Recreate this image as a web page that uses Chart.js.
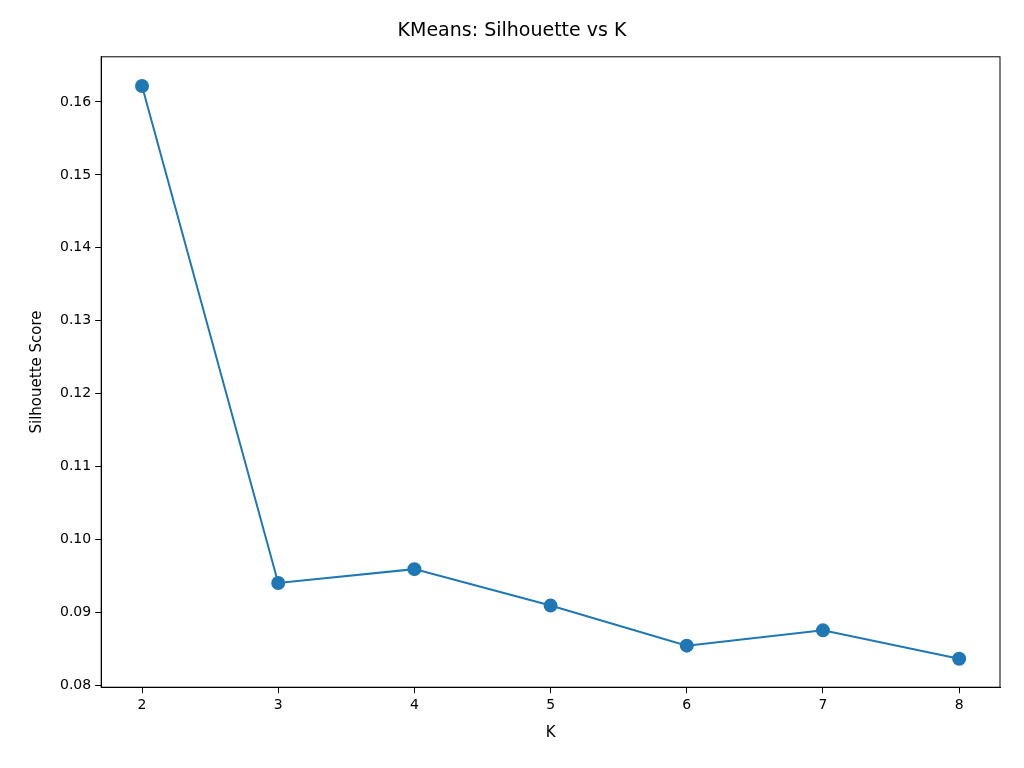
<!DOCTYPE html>
<html>
<head>
<meta charset="utf-8">
<script src="https://cdn.jsdelivr.net/npm/chart.js@4"></script>
<style>
  html, body { margin: 0; padding: 0; background: #fff; }
  #wrap { width: 1024px; height: 768px; }
</style>
</head>
<body>
<div id="wrap"><canvas id="chart"></canvas></div>
<script>
const kValues = [2, 3, 4, 5, 6, 7, 8];
const silhouetteScores = [0.1622, 0.0940, 0.0959, 0.0909, 0.0854, 0.0875, 0.0836];
const xTicks = [2, 3, 4, 5, 6, 7, 8];
const yTicks = [0.08, 0.09, 0.10, 0.11, 0.12, 0.13, 0.14, 0.15, 0.16];

const blue = '#1f77b4';
Chart.defaults.font.family = 'DejaVu Sans';
Chart.defaults.color = '#000';

new Chart(document.getElementById('chart'), {
  type: 'line',
  data: {
    datasets: [{
      label: 'Silhouette',
      data: kValues.map((k, i) => ({ x: k, y: silhouetteScores[i] })),
      borderColor: blue,
      backgroundColor: blue,
      borderWidth: 2,
      pointRadius: 6,
      pointHoverRadius: 6,
      tension: 0
    }]
  },
  options: {
    responsive: true,
    maintainAspectRatio: false,
    animation: false,
    layout: { padding: { left: 24, right: 24, top: 8, bottom: 22 } },
    plugins: {
      legend: { display: false },
      tooltip: { enabled: false },
      title: {
        display: true,
        text: 'KMeans: Silhouette vs K',
        font: { size: 19, weight: 'normal' },
        padding: { top: 12, bottom: 14 }
      }
    },
    scales: {
      x: {
        type: 'linear',
        min: 1.7,
        max: 8.3,
        afterBuildTicks: axis => { axis.ticks = xTicks.map(v => ({ value: v })); },
        grid: { drawOnChartArea: false, drawTicks: true, tickLength: 6, tickColor: '#000' },
        border: { display: true, color: '#000', width: 1 },
        ticks: { font: { size: 14 }, padding: 4 },
        title: { display: true, text: 'K', font: { size: 15 }, padding: { top: 6 } }
      },
      y: {
        min: 0.0797,
        max: 0.1662,
        afterBuildTicks: axis => { axis.ticks = yTicks.map(v => ({ value: v })); },
        grid: { drawOnChartArea: false, drawTicks: true, tickLength: 6, tickColor: '#000' },
        border: { display: true, color: '#000', width: 1 },
        ticks: { font: { size: 14 }, padding: 4, callback: v => v.toFixed(2) },
        title: { display: true, text: 'Silhouette Score', font: { size: 15 }, padding: { bottom: 10 } }
      }
    }
  },
  plugins: [{
    id: 'frame',
    afterDraw(chart) {
      const { ctx, chartArea: a } = chart;
      ctx.save();
      ctx.strokeStyle = '#000';
      ctx.lineWidth = 1;
      ctx.strokeRect(a.left, a.top, a.right - a.left, a.bottom - a.top);
      ctx.restore();
    }
  }]
});
</script>
</body>
</html>
